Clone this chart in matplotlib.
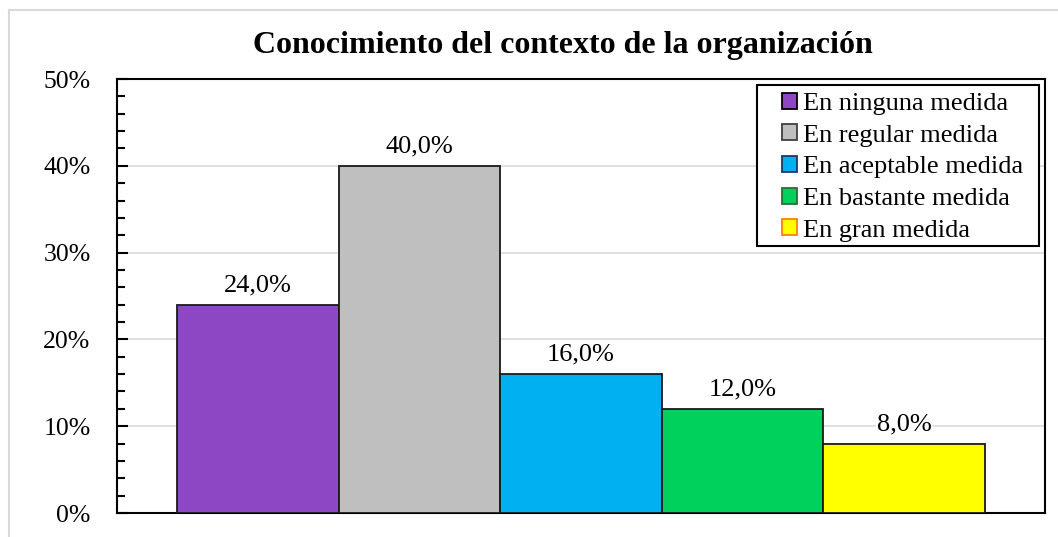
import matplotlib
matplotlib.use("Agg")
import matplotlib.pyplot as plt
from matplotlib.patches import Patch, Rectangle
from matplotlib.ticker import MultipleLocator, PercentFormatter
from matplotlib.lines import Line2D

# --- data ---
categorias = ["En ninguna medida", "En regular medida", "En aceptable medida",
              "En bastante medida", "En gran medida"]
valores = [24.0, 40.0, 16.0, 12.0, 8.0]
colores = ["#8e47c4", "#bfbfbf", "#00b0f0", "#00d05c", "#ffff00"]
bordes_leyenda = ["#000000", "#404040", "#1f3864", "#2e6b3a", "#ff7f00"]
titulo = "Conocimiento del contexto de la organización"

plt.rcParams["font.family"] = ["Liberation Serif", "DejaVu Serif"]

W, H = 1058, 537
fig = plt.figure(figsize=(W / 100, H / 100), dpi=100)
ax = fig.add_axes([117 / W, 1 - 513 / H, 928 / W, 434 / H])

x = list(range(len(valores)))
ax.bar(x, valores, width=1.0, color=colores, edgecolor="#1a1a1a", linewidth=1.3, zorder=3)

# etiquetas de datos con fondo blanco (cortan la cuadrícula)
for xi, v in zip(x, valores):
    ax.annotate(f"{v:.1f}%".replace(".", ","), (xi, v), xytext=(0, 14),
                textcoords="offset points", ha="center", va="center", fontsize=19,
                bbox=dict(facecolor="white", edgecolor="none", pad=1), zorder=4)

ax.set_xlim(-0.871, 4.871)
ax.set_ylim(0, 50)
ax.yaxis.set_major_locator(MultipleLocator(10))
ax.yaxis.set_minor_locator(MultipleLocator(2))
ax.yaxis.set_major_formatter(PercentFormatter(decimals=0))
ax.set_xticks([])
ax.tick_params(axis="y", which="major", direction="in", length=8, width=1.5,
               labelsize=18.5, pad=19)
ax.tick_params(axis="y", which="minor", direction="in", length=6, width=1.5)
ax.grid(axis="y", color="#d9d9d9", linewidth=1.2, zorder=0)
ax.set_axisbelow(True)
for s in ax.spines.values():
    s.set_linewidth(1.5)
    s.set_color("black")

# marco de la leyenda (estilo Excel: más margen a los lados)
marco = Rectangle(((757 - 117) / 928, (513 - 246) / 434), 282 / 928, 161 / 434,
                  transform=ax.transAxes, facecolor="white", edgecolor="black",
                  linewidth=1.5, zorder=4.5)
ax.add_patch(marco)

handles = [Patch(facecolor=c, edgecolor=e, linewidth=1.3) for c, e in zip(colores, bordes_leyenda)]
leg = ax.legend(handles, categorias, loc="upper left",
                bbox_to_anchor=((782 - 117) / 928, (513 - 92.5) / 434),
                borderaxespad=0, borderpad=0, fontsize=19, frameon=False,
                handlelength=0.57, handleheight=0.57, handletextpad=0.23,
                labelspacing=0.35)
leg.set_zorder(5)

fig.text(563 / W, 1 - 46 / H, titulo, ha="center", va="center",
         fontsize=23, fontweight="bold")

# borde exterior del gráfico
fig.add_artist(Line2D([9 / W, 9 / W], [0, 1 - 10 / H], transform=fig.transFigure,
                      color="#d9d9d9", linewidth=1.5))
fig.add_artist(Line2D([9 / W, 1], [1 - 10 / H, 1 - 10 / H], transform=fig.transFigure,
                      color="#d9d9d9", linewidth=1.5))

fig.savefig("out.png", dpi=100)
